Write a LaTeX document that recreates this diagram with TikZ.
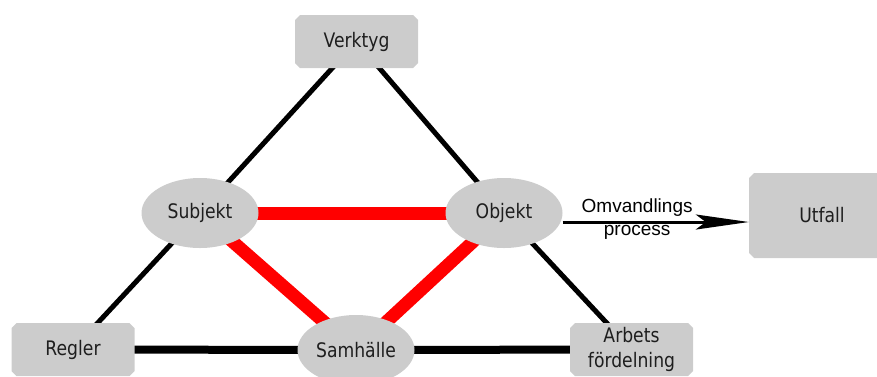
\documentclass[tikz,border=0pt]{standalone}
\usepackage{fontspec}
\setmainfont{DejaVu Sans}[FakeStretch=0.86]
\newfontfamily\labelfont{Liberation Sans}
\usetikzlibrary{shapes.geometric,shapes.misc,arrows.meta,backgrounds}
\definecolor{nodegrey}{RGB}{204,204,204}
\definecolor{nodetext}{RGB}{30,30,30}
\definecolor{tiered}{RGB}{255,0,0}
\begin{document}
\begin{tikzpicture}[x=1pt,y=-1pt,
  boxnode/.style={chamfered rectangle, chamfered rectangle xsep=2.5pt,
    chamfered rectangle ysep=2.5pt, fill=nodegrey, draw=none, inner sep=0pt,
    minimum width=123pt, minimum height=53pt, text=nodetext,
    font=\fontsize{20}{25}\selectfont, align=center},
  ellnode/.style={ellipse, fill=nodegrey, draw=none, inner sep=0pt,
    minimum width=117pt, minimum height=70pt, text=nodetext,
    font=\fontsize{20}{24}\selectfont},
  side/.style={line width=5pt, black},
  base/.style={line width=8pt, black},
  inner/.style={line width=13pt, tiered},
  flow/.style={line width=3pt, black,
    -{Stealth[length=53pt, width=15pt, inset=10pt]}},
  flowlabel/.style={font=\labelfont\fontsize{19}{23}\selectfont, align=center,
    text=black, inner sep=0pt}
]
\clip (0,0) rectangle (877,376);
\useasboundingbox (0,0) rectangle (877,376);

% nodes
\node[boxnode] (verktyg) at (356.5,41.5) {Verktyg};
\node[boxnode] (regler) at (73,349.5) {Regler};
\node[boxnode] (arbets) at (631.5,349.5) {Arbets\\fördelning};
\node[boxnode, minimum width=146pt, minimum height=85pt] (utfall) at (822,215.5) {Utfall};
\node[ellnode] (subjekt) at (200,213) {Subjekt};
\node[ellnode] (objekt) at (504,213) {Objekt};
\node[ellnode] (samhalle) at (356,350) {Samhälle};

% connectors behind the nodes
\begin{pgfonlayer}{background}
  \draw[side] (verktyg.center) -- (subjekt.center);
  \draw[side] (subjekt.center) -- (regler.center);
  \draw[side] (verktyg.center) -- (objekt.center);
  \draw[side] (objekt.center) -- (arbets.center);
  \draw[base] (regler.center) -- (samhalle.center);
  \draw[base] (samhalle.center) -- (arbets.center);
  \draw[inner] (subjekt.center) -- (objekt.center);
  \draw[inner] (subjekt.center) -- (samhalle.center);
  \draw[inner] (objekt.center) -- (samhalle.center);
\end{pgfonlayer}

% transformation arrow towards the outcome
\draw[flow] ([yshift=-9pt]objekt.east) -- ([yshift=-6.5pt]utfall.west)
  node[flowlabel, pos=0.4, yshift=3pt] {Omvandlings\\process};
\end{tikzpicture}
\end{document}
